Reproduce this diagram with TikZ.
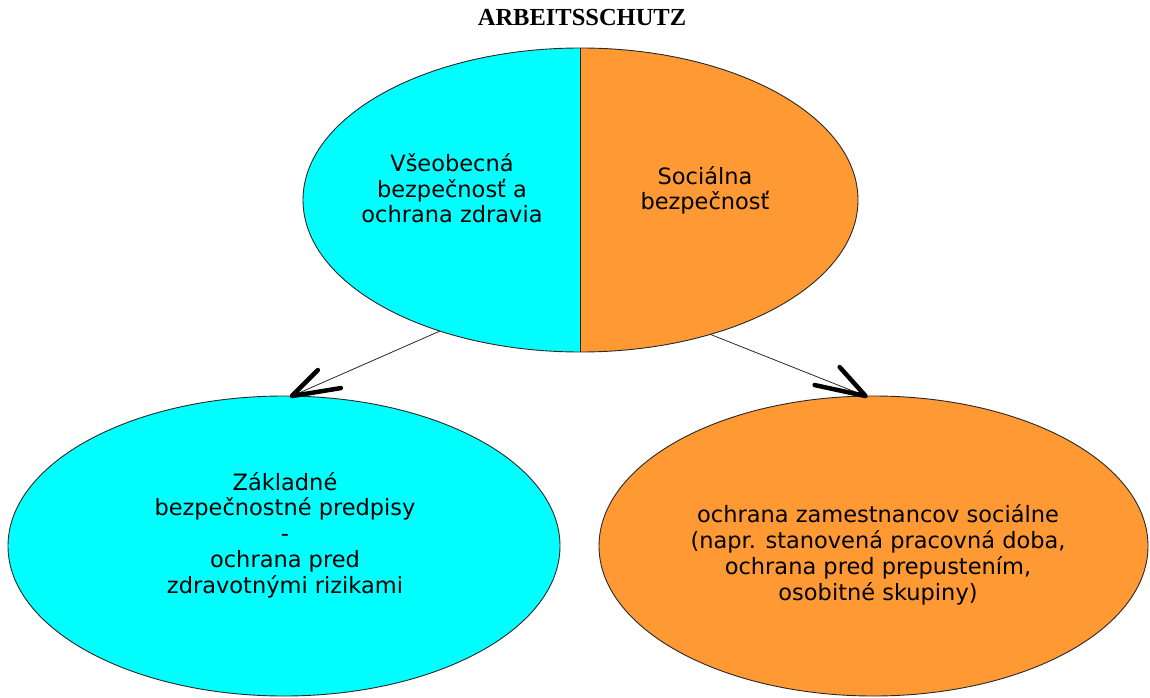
\documentclass[tikz,border=0pt]{standalone}
\usepackage{fontspec}
\setmainfont{DejaVu Sans}
\newfontfamily\titlefont{Liberation Serif}
\usetikzlibrary{shapes.geometric}
\definecolor{cyanfill}{RGB}{0,255,255}
\definecolor{orangefill}{RGB}{255,153,51}
\definecolor{edgegray}{RGB}{40,40,40}
\tikzset{
  oval/.style={ellipse, draw=edgegray, line width=0.9pt, inner sep=0pt, outer sep=0pt},
  bodytext/.style={align=center, anchor=base, inner sep=0pt, font=\fontsize{22.5}{25.7}\selectfont},
  thinlink/.style={draw=edgegray, line width=0.8pt},
  barb/.style={draw=black, line width=4.5pt, line cap=round, line join=round}
}
\begin{document}
\begin{tikzpicture}[x=1pt,y=1pt]
\useasboundingbox (0,0) rectangle (1150,697);
% title
\node[anchor=base, inner sep=0pt, font=\titlefont\bfseries\fontsize{24.5}{28}\selectfont] (title) at (582,671) {ARBEITSSCHUTZ};
% top ellipse halves
\fill[cyanfill] (580.5,497) ++(0,152) arc[start angle=90, end angle=270, x radius=277.5, y radius=152] -- cycle;
\fill[orangefill] (580.5,497) ++(0,-152) arc[start angle=-90, end angle=90, x radius=277.5, y radius=152] -- cycle;
\node[oval, minimum width=555pt, minimum height=304pt] (top) at (580.5,497) {};
\draw[draw=edgegray, line width=0.9pt] (top.north) -- (top.south);
\node[bodytext] (topL) at (452,474) {Všeobecná\\bezpečnosť a\\ochrana zdravia};
\node[bodytext] (topR) at (705,487) {Sociálna\\bezpečnosť};
% bottom ellipses
\node[oval, fill=cyanfill, minimum width=552pt, minimum height=300pt] (botL) at (284,151) {};
\node[oval, fill=orangefill, minimum width=549pt, minimum height=300pt] (botR) at (873.5,151) {};
\node[bodytext] (txtL) at (285,104) {Základné\\bezpečnostné predpisy\\-\\ochrana pred\\zdravotnými rizikami};
\node[bodytext] (txtR) at (878,97) {ochrana zamestnancov sociálne\\(napr. stanovená pracovná doba,\\ochrana pred prepustením,\\osobitné skupiny)};
% connectors
\draw[thinlink] (top.223.9) -- (botL.87);
\draw[barb] ([shift={(26,26)}]botL.87) -- (botL.87) -- ([shift={(49,8)}]botL.87);
\draw[thinlink] (top.314.5) -- (botR.93.3);
\draw[barb] ([shift={(-26,29)}]botR.93.3) -- (botR.93.3) -- ([shift={(-51,11)}]botR.93.3);
\end{tikzpicture}
\end{document}
